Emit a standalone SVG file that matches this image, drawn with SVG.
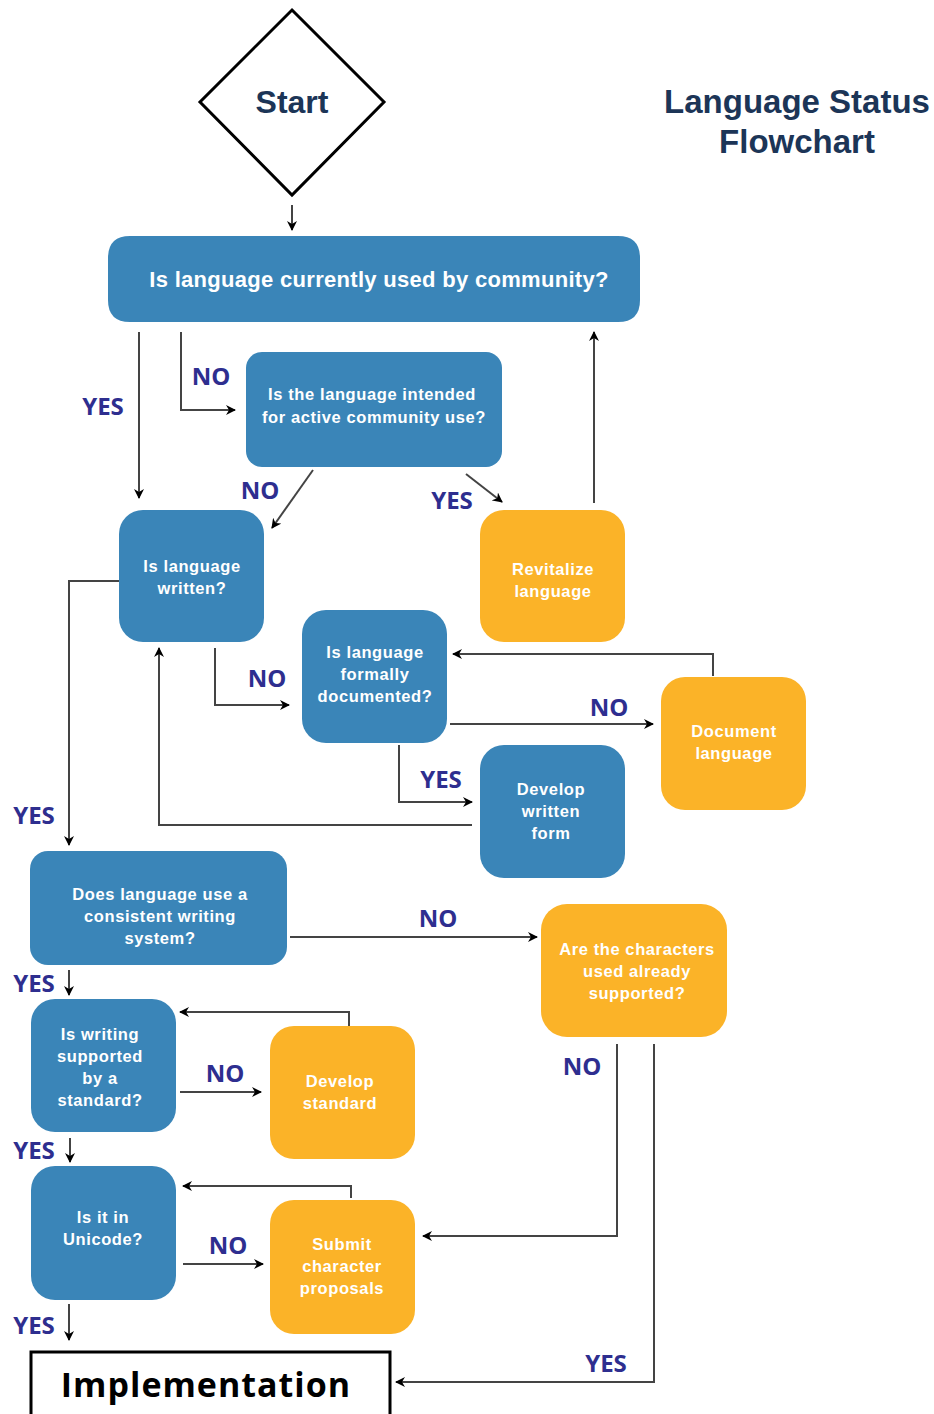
<svg xmlns="http://www.w3.org/2000/svg" width="934" height="1414" viewBox="0 0 934 1414">
<style>
.blue{fill:#3a85b8}
.orange{fill:#fbb328}
.nt{fill:#fff;font-family:"Liberation Sans",Arial,sans-serif;font-weight:bold;font-size:16.5px;letter-spacing:0.6px;text-anchor:middle}
.lbl{fill:#2e2e8f;font-family:"Open Sans","Liberation Sans",sans-serif;font-weight:bold;font-size:24px;text-anchor:middle}
.title{fill:#1c3557;font-family:"Liberation Sans",Arial,sans-serif;font-weight:bold;font-size:32px;text-anchor:middle}
.c{fill:none;stroke:#444;stroke-width:2}
</style>
<defs>
<marker id="ah" markerWidth="10" markerHeight="10" refX="9" refY="5" orient="auto" markerUnits="userSpaceOnUse" viewBox="0 0 10 10">
<path d="M0,0 L10,5 L0,10 L3,5 Z" fill="#000"/>
</marker>
</defs>
<rect width="934" height="1414" fill="#fff"/>

<g id="title">
<text class="title" x="797" y="113" style="font-size:33px">Language Status</text>
<text class="title" x="797" y="153" style="font-size:33px">Flowchart</text>
</g>

<g id="start">
<polygon points="292,10 384,102 292,195 200,102" fill="#fff" stroke="#000" stroke-width="3"/>
<text class="title" x="292" y="113">Start</text>
</g>

<g id="q-community">
<path class="blue" d="M130,236 H618 Q640,236 640,258 V300 Q640,322 618,322 H130 Q108,322 108,300 V258 Q108,236 130,236 Z"/>
<text class="nt" x="379" y="287" style="font-size:22px;letter-spacing:0.3px">Is language currently used by community?</text>
</g>

<g id="q-intended">
<rect class="blue" x="246" y="352" width="256" height="115" rx="16"/>
<text class="nt" x="372" y="400">Is the language intended</text>
<text class="nt" x="374" y="423">for active community use?</text>
</g>

<g id="q-written">
<rect class="blue" x="119" y="510" width="145" height="132" rx="24"/>
<text class="nt" x="192" y="572">Is language</text>
<text class="nt" x="192" y="594">written?</text>
</g>

<g id="revitalize">
<rect class="orange" x="480" y="510" width="145" height="132" rx="24"/>
<text class="nt" x="553" y="575">Revitalize</text>
<text class="nt" x="553" y="597">language</text>
</g>

<g id="q-documented">
<rect class="blue" x="302" y="610" width="145" height="133" rx="24"/>
<text class="nt" x="375" y="658">Is language</text>
<text class="nt" x="375" y="680">formally</text>
<text class="nt" x="375" y="702">documented?</text>
</g>

<g id="document">
<rect class="orange" x="661" y="677" width="145" height="133" rx="24"/>
<text class="nt" x="734" y="737">Document</text>
<text class="nt" x="734" y="759">language</text>
</g>

<g id="develop-written">
<rect class="blue" x="480" y="745" width="145" height="133" rx="24"/>
<text class="nt" x="551" y="795">Develop</text>
<text class="nt" x="551" y="817">written</text>
<text class="nt" x="551" y="839">form</text>
</g>

<g id="q-consistent">
<rect class="blue" x="30" y="851" width="257" height="114" rx="18"/>
<text class="nt" x="160" y="900">Does language use a</text>
<text class="nt" x="160" y="922">consistent writing</text>
<text class="nt" x="160" y="944">system?</text>
</g>

<g id="q-characters">
<rect class="orange" x="541" y="904" width="186" height="133" rx="26"/>
<text class="nt" x="637" y="955">Are the characters</text>
<text class="nt" x="637" y="977">used already</text>
<text class="nt" x="637" y="999">supported?</text>
</g>

<g id="q-standard">
<rect class="blue" x="31" y="999" width="145" height="133" rx="24"/>
<text class="nt" x="100" y="1040">Is writing</text>
<text class="nt" x="100" y="1062">supported</text>
<text class="nt" x="100" y="1084">by a</text>
<text class="nt" x="100" y="1106">standard?</text>
</g>

<g id="develop-standard">
<rect class="orange" x="270" y="1026" width="145" height="133" rx="24"/>
<text class="nt" x="340" y="1087">Develop</text>
<text class="nt" x="340" y="1109">standard</text>
</g>

<g id="q-unicode">
<rect class="blue" x="31" y="1166" width="145" height="134" rx="24"/>
<text class="nt" x="103" y="1223">Is it in</text>
<text class="nt" x="103" y="1245">Unicode?</text>
</g>

<g id="submit">
<rect class="orange" x="270" y="1200" width="145" height="134" rx="24"/>
<text class="nt" x="342" y="1250">Submit</text>
<text class="nt" x="342" y="1272">character</text>
<text class="nt" x="342" y="1294">proposals</text>
</g>

<g id="implementation">
<rect x="31" y="1352" width="359" height="80" fill="#fff" stroke="#000" stroke-width="3"/>
<text x="206" y="1397" style="font-family:'Open Sans','Liberation Sans',sans-serif;font-weight:bold;font-size:34px;text-anchor:middle;fill:#000;letter-spacing:1px">Implementation</text>
</g>

<g id="connectors">
<path class="c" d="M292,205 V230" marker-end="url(#ah)"/>
<path class="c" d="M139,332 V498" marker-end="url(#ah)"/>
<path class="c" d="M181,332 V410 H235" marker-end="url(#ah)"/>
<path class="c" d="M313,470 L272,528" marker-end="url(#ah)"/>
<path class="c" d="M466,474 L502,502" marker-end="url(#ah)"/>
<path class="c" d="M594,503 V332" marker-end="url(#ah)"/>
<path class="c" d="M119,581 H69 V845" marker-end="url(#ah)"/>
<path class="c" d="M215,648 V705 H289" marker-end="url(#ah)"/>
<path class="c" d="M713,676 V654 H453" marker-end="url(#ah)"/>
<path class="c" d="M450,724 H653" marker-end="url(#ah)"/>
<path class="c" d="M399,745 V802 H472" marker-end="url(#ah)"/>
<path class="c" d="M472,825 H159 V648" marker-end="url(#ah)"/>
<path class="c" d="M290,937 H537" marker-end="url(#ah)"/>
<path class="c" d="M69,970 V995" marker-end="url(#ah)"/>
<path class="c" d="M349,1026 V1012 H180" marker-end="url(#ah)"/>
<path class="c" d="M180,1092 H261" marker-end="url(#ah)"/>
<path class="c" d="M70,1138 V1162" marker-end="url(#ah)"/>
<path class="c" d="M351,1198 V1186 H183" marker-end="url(#ah)"/>
<path class="c" d="M183,1264 H263" marker-end="url(#ah)"/>
<path class="c" d="M617,1044 V1236 H423" marker-end="url(#ah)"/>
<path class="c" d="M654,1044 V1382 H396" marker-end="url(#ah)"/>
<path class="c" d="M69,1304 V1340" marker-end="url(#ah)"/>
</g>

<g id="labels">
<text class="lbl" x="103" y="415">YES</text>
<text class="lbl" x="211" y="385">NO</text>
<text class="lbl" x="260" y="499">NO</text>
<text class="lbl" x="452" y="509">YES</text>
<text class="lbl" x="34" y="824">YES</text>
<text class="lbl" x="267" y="687">NO</text>
<text class="lbl" x="609" y="716">NO</text>
<text class="lbl" x="441" y="788">YES</text>
<text class="lbl" x="438" y="927">NO</text>
<text class="lbl" x="34" y="992">YES</text>
<text class="lbl" x="225" y="1082">NO</text>
<text class="lbl" x="34" y="1159">YES</text>
<text class="lbl" x="228" y="1254">NO</text>
<text class="lbl" x="582" y="1075">NO</text>
<text class="lbl" x="606" y="1372">YES</text>
<text class="lbl" x="34" y="1334">YES</text>
</g>
</svg>
